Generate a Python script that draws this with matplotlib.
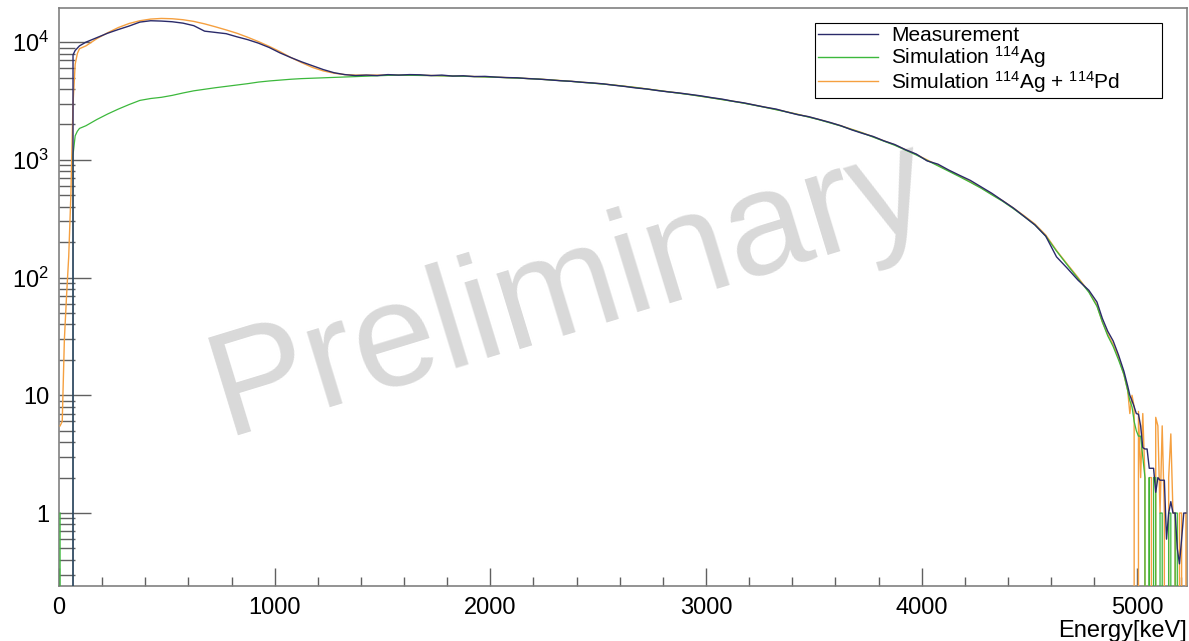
#!/usr/bin/env python3
"""beta spectrum of 114Ag: measurement vs simulations (log scale)"""
import numpy as np
import matplotlib.pyplot as plt
from matplotlib.ticker import FixedLocator, MultipleLocator, LogLocator, NullFormatter

plt.rcParams['font.family'] = ['Liberation Sans', 'DejaVu Sans']
plt.rcParams['mathtext.fontset'] = 'custom'
plt.rcParams['mathtext.rm'] = 'Liberation Sans'
plt.rcParams['mathtext.default'] = 'regular'

# bin edges [keV]: fine lead-in, 50 keV body, finer tail
edges = np.concatenate([np.arange(0, 100, 10), np.arange(100, 4800, 50),
                        [4800, 4825, 4850, 4875, 4900, 4925],
                        np.arange(4950, 5231, 10)])

# counts per bin
meas_lead = [0, 0, 0, 0, 0, 0, 7800, 8500, 8900, 9300]
meas_body = [10000, 10900, 11900, 12800, 13700, 14800, 15200, 15100, 14900, 14500,
             13800, 12400, 12100, 11800, 11100, 10500, 9800, 9000, 8100, 7400,
             6800, 6300, 5850, 5500, 5300, 5200, 5250, 5200, 5300, 5250,
             5300, 5280, 5200, 5250, 5150, 5180, 5100, 5120, 5050, 5000,
             4980, 4900, 4850, 4780, 4700, 4650, 4560, 4500, 4420, 4300,
             4200, 4080, 4000, 3880, 3780, 3700, 3600, 3500, 3380, 3280,
             3150, 3050, 2920, 2800, 2700, 2550, 2420, 2330, 2200, 2080,
             1950, 1800, 1680, 1580, 1450, 1350, 1220, 1120, 980, 920,
             820, 740, 670, 590, 520, 450, 390, 330, 280, 225,
             150, 120, 95, 78]
meas_tail = [62, 45, 35, 29, 22, 16,
             12, 10, 9, 8, 7, 6.9, 5.5, 3.6, 3.5, 3.5,
             2.4, 2.4, 2.4, 1.5, 2.0, 1.9, 1.9, 1.9, 0.6, 1.0,
             1.25, 1.0, 1.0, 0.5, 0.37, 0.6, 1.0, 1.0]

ag_lead = [1, 0, 0, 0, 0, 0, 1100, 1600, 1750, 1850]
ag_body = [1950, 2200, 2450, 2700, 2950, 3200, 3320, 3400, 3530, 3700,
           3860, 3980, 4100, 4210, 4320, 4440, 4580, 4680, 4760, 4840,
           4900, 4940, 4980, 5020, 5060, 5100, 5150, 5190, 5220, 5240,
           5230, 5220, 5200, 5180, 5160, 5130, 5100, 5070, 5030, 4990,
           4950, 4900, 4850, 4780, 4710, 4640, 4560, 4480, 4400, 4310,
           4210, 4110, 4000, 3890, 3780, 3680, 3580, 3470, 3360, 3250,
           3140, 3030, 2910, 2790, 2670, 2550, 2430, 2310, 2190, 2060,
           1940, 1810, 1690, 1560, 1440, 1330, 1210, 1100, 990, 890,
           800, 720, 645, 575, 505, 445, 385, 330, 280, 225,
           168, 128, 98, 75]
ag_tail = [57, 42, 32, 26, 20, 15,
           11, 9, 8, 6, 5, 4.5, 4.5, 3, 2, 0,
           2, 0, 2, 2, 0, 1, 1, 0, 0, 1,
           1, 0, 1, 1, 0, 0, 0, 0]

agpd_lead = [5.5, 6, 30, 70, 150, 500, 3000, 6500, 8000, 8800]
agpd_body = [9300, 10700, 12000, 13300, 14400, 15200, 15700, 15900, 15800, 15500,
             15000, 14300, 13500, 12700, 11900, 11000, 10100, 9200, 8300, 7400,
             6700, 6100, 5700, 5450, 5300, 5250, 5250, 5250, 5250, 5250,
             5240, 5230, 5210, 5190, 5170, 5140, 5110, 5080, 5040, 5000,
             4960, 4910, 4860, 4790, 4720, 4650, 4570, 4490, 4410, 4320,
             4220, 4120, 4010, 3900, 3790, 3690, 3590, 3480, 3370, 3260,
             3150, 3040, 2920, 2800, 2680, 2560, 2440, 2320, 2200, 2070,
             1950, 1820, 1700, 1570, 1450, 1340, 1220, 1110, 1000, 900,
             810, 730, 650, 580, 510, 450, 390, 335, 285, 230,
             170, 130, 100, 76]
agpd_tail = [58, 42, 33, 27, 21, 15,
             11, 7, 10, 8, 0, 7.3, 2, 7, 2, 0,
             2, 2, 0, 6.5, 5.5, 1, 5.5, 1, 0, 2,
             4.7, 1, 1, 0, 1, 1, 0, 1]

labels = ['Measurement', 'Simulation $^{114}$Ag', 'Simulation $^{114}$Ag + $^{114}$Pd']
colors = ['#2a2a6a', '#3cb83c', '#f5a040']

meas = np.array(meas_lead + meas_body + meas_tail, dtype=float)
ag = np.array(ag_lead + ag_body + ag_tail, dtype=float)
agpd = np.array(agpd_lead + agpd_body + agpd_tail, dtype=float)
centers = 0.5 * (edges[:-1] + edges[1:])

fig = plt.figure(figsize=(11.89, 6.41), dpi=100)
ax = fig.add_axes([59 / 1189, 55 / 641, 1128 / 1189, 578 / 641])

ax.plot(centers, agpd, color=colors[2], lw=1.0, zorder=3)
ax.plot(centers, ag, color=colors[1], lw=0.9, zorder=4)
ax.plot(centers, meas, color=colors[0], lw=1.0, zorder=5)

ax.set_yscale('log')
ax.set_xlim(0, 5230)
ax.set_ylim(0.24, 19500)

ax.xaxis.set_major_locator(MultipleLocator(1000))
ax.xaxis.set_minor_locator(MultipleLocator(200))
ax.yaxis.set_major_locator(FixedLocator([1, 10, 100, 1000, 10000]))
ax.set_yticklabels(['1', '10', '$10^{2}$', '$10^{3}$', '$10^{4}$'])
ax.yaxis.set_minor_locator(LogLocator(base=10, subs=np.arange(2, 10)))
ax.yaxis.set_minor_formatter(NullFormatter())

ax.tick_params(axis='both', which='both', direction='in', colors='#606060',
               labelcolor='black', labelsize=17, width=1.0)
ax.tick_params(axis='y', which='major', length=23, pad=7)
ax.tick_params(axis='y', which='minor', length=11.5)
ax.tick_params(axis='x', which='major', length=13, pad=8)
ax.tick_params(axis='x', which='minor', length=6.5)
for sp in ax.spines.values():
    sp.set_color('#808080')
    sp.set_linewidth(1.2)

ax.set_xlabel('Energy[keV]', loc='right', fontsize=17, labelpad=1)

ax.text(0.453, 0.512, 'Preliminary', transform=ax.transAxes, rotation=17,
        rotation_mode='anchor', ha='center', va='center', fontsize=107,
        color='#d9d9d9', zorder=1)

handles = [plt.Line2D([], [], color=c, lw=1.0) for c in colors]
leg = ax.legend(handles, labels, loc='upper left',
                bbox_to_anchor=(0.670, 0.846, 0.308, 0.128), mode='expand',
                fontsize=15, frameon=True, fancybox=False, edgecolor='black',
                framealpha=1, handlelength=2.9, handletextpad=0.6,
                labelspacing=-0.05, borderpad=0.15, borderaxespad=0)
leg.get_frame().set_linewidth(0.8)
leg.set_zorder(10)

fig.savefig('out.png', dpi=100)
